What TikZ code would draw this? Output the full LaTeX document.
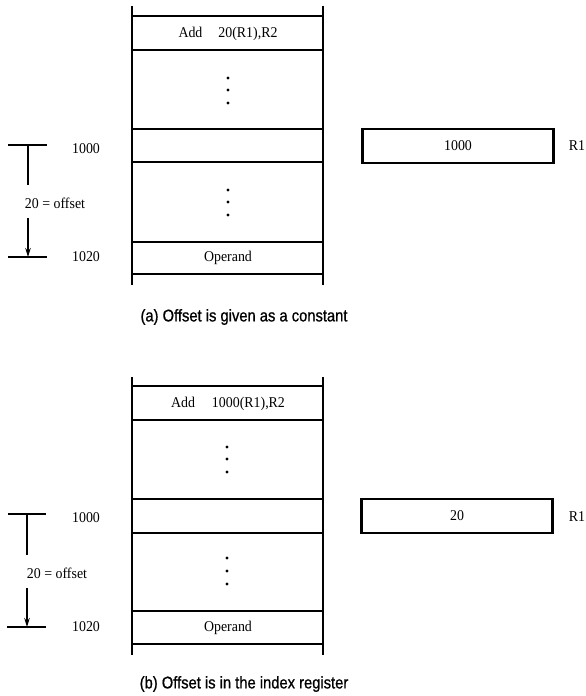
\documentclass[tikz,border=0pt]{standalone}
\usepackage{fontspec}
\setmainfont[FakeStretch=0.93]{Liberation Serif}
\newfontfamily\capfont[FakeStretch=0.87,FakeBold=0.8]{Liberation Sans}
\usetikzlibrary{arrows.meta}
\begin{document}
\begin{tikzpicture}[x=1bp,y=-1bp,
  memline/.style={line width=2bp},
  txt/.style={font=\fontsize{15}{17}\selectfont, inner sep=0pt},
  captext/.style={font=\capfont\fontsize{17}{19}\selectfont, inner sep=0pt},
  regbox/.style={draw, line width=2.2bp, minimum width=191bp, minimum height=34bp, inner sep=0pt, font=\fontsize{15}{17}\selectfont},
  memdot/.style={circle, fill, inner sep=0pt, minimum size=3.4bp},
  tick/.style={line width=1.5bp},
  offarrow/.style={line width=1.5bp, -{Stealth[length=9bp,width=5.5bp]}}]
\useasboundingbox (0,0) rectangle (586,696);
% ---------- panel (a) ----------
\draw[memline] (132,6) -- (132,285);
\draw[memline] (323,6) -- (323,285);
\foreach \y in {16,50,129,162,242,274} \draw[memline] (132,\y) -- (323,\y);
\node[txt] (a-instr) at (228,34) {Add\hspace{16bp}20(R1),R2};
\node[memdot] (a-d1) at (228,78) {};
\node[memdot] (a-d2) at (228,90) {};
\node[memdot] (a-d3) at (228,103) {};
\node[memdot] (a-d4) at (228,190) {};
\node[memdot] (a-d5) at (228,202) {};
\node[memdot] (a-d6) at (228,215) {};
\node[txt] (a-oper) at (228,258) {Operand};
\node[txt] (a-l1000) at (86,149) {1000};
\node[txt] (a-l1020) at (86,257) {1020};
\node[txt] (a-off) at (55,203) {20 = offset};
\coordinate (a-t1) at (8,145);
\coordinate (a-t2) at (47,145);
\coordinate (a-tc) at (28,145);
\coordinate (a-tv) at (28,185);
\coordinate (a-as) at (28,218);
\coordinate (a-ae) at (28,257);
\coordinate (a-b1) at (8,257);
\coordinate (a-b2) at (47,257);
\draw[tick] (a-t1) -- (a-t2);
\draw[tick] (a-tc) -- (a-tv);
\draw[offarrow] (a-as) -- (a-ae);
\draw[tick] (a-b1) -- (a-b2);
\node[regbox] (a-reg) at (458,146) {1000};
\node[txt] (a-r1) at (577,146) {R1};
\node[captext] (a-cap) at (244,317) {(a) Offset is given as a constant};
% ---------- panel (b) ----------
\draw[memline] (132,377) -- (132,655);
\draw[memline] (323,377) -- (323,655);
\foreach \y in {386,420,499,533,611,644} \draw[memline] (132,\y) -- (323,\y);
\node[txt] (b-instr) at (228,404) {Add\hspace{17bp}1000(R1),R2};
\node[memdot] (b-d1) at (227,447) {};
\node[memdot] (b-d2) at (227,459) {};
\node[memdot] (b-d3) at (227,472) {};
\node[memdot] (b-d4) at (227,558) {};
\node[memdot] (b-d5) at (227,571) {};
\node[memdot] (b-d6) at (227,584) {};
\node[txt] (b-oper) at (228,628) {Operand};
\node[txt] (b-l1000) at (86,518) {1000};
\node[txt] (b-l1020) at (86,627) {1020};
\node[txt] (b-off) at (57,573) {20 = offset};
\coordinate (b-t1) at (8,514);
\coordinate (b-t2) at (46,514);
\coordinate (b-tc) at (27,514);
\coordinate (b-tv) at (27,555);
\coordinate (b-as) at (27,588);
\coordinate (b-ae) at (27,627);
\coordinate (b-b1) at (7,627);
\coordinate (b-b2) at (46,627);
\draw[tick] (b-t1) -- (b-t2);
\draw[tick] (b-tc) -- (b-tv);
\draw[offarrow] (b-as) -- (b-ae);
\draw[tick] (b-b1) -- (b-b2);
\node[regbox] (b-reg) at (457,516) {20};
\node[txt] (b-r1) at (577,517) {R1};
\node[captext] (b-cap) at (244,684) {(b) Offset is in the index register};
\end{tikzpicture}
\end{document}
